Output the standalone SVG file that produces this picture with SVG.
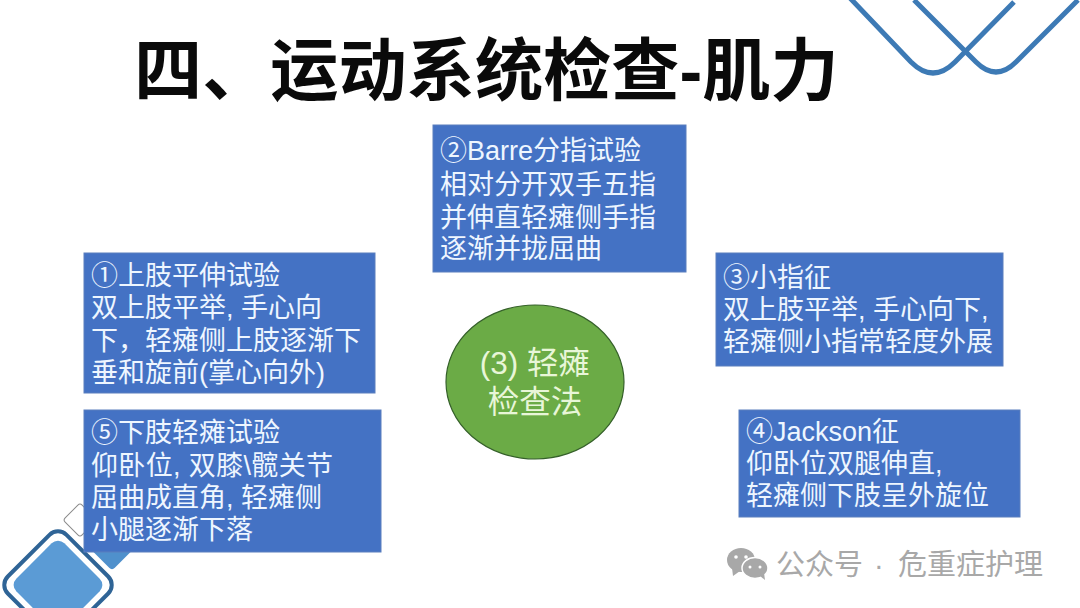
<svg xmlns="http://www.w3.org/2000/svg" width="1080" height="608" viewBox="0 0 1080 608">
<style>
text{font-family:"Liberation Sans","Noto Sans CJK SC",sans-serif}
.box{fill:#4472c4;stroke:#5a7fbe;stroke-width:1}
.t{fill:#eef6ff;font-size:27px}
.c{fill:#e8f6d8;font-size:31.500px;text-anchor:middle}
.title{fill:#0a0a0a;font-size:68.2px;font-weight:700}
.wm{fill:#a8a8a8;font-size:29px}
</style>
<rect width="1080" height="608" fill="#ffffff"/>
<g id="deco-top" fill="none" stroke="#3d7ab5" stroke-width="5">
<path d="M850 -2L911 62Q933 84 955 62L1014 2"/>
<path d="M914 0L976 62Q996 82 1016 62L1078 0"/>
</g>
<g id="deco-bottom">
<rect x="68" y="508" width="24" height="24" rx="3" transform="rotate(45 80 520)" fill="#fff" stroke="#8a8a8a" stroke-width="1"/>
<rect x="96" y="532" width="32" height="32" rx="4" transform="rotate(45 112 548)" fill="#4f90cc"/>
<rect x="16.500" y="543.500" width="83" height="83" rx="12" transform="rotate(45 58 585)" fill="#fff" stroke="#2f6496" stroke-width="4"/>
<rect x="24" y="551" width="68" height="68" rx="9" transform="rotate(45 58 585)" fill="#5b9bd5"/>
</g>
<text id="title" class="title" x="134" y="95">四、运动系统检查-肌力</text>
<g id="connectors"/>
<g id="node-2">
<rect class="box" x="433" y="125" width="253" height="147"/>
<text class="t" x="440" y="160">②Barre分指试验</text>
<text class="t" x="440" y="194">相对分开双手五指</text>
<text class="t" x="440" y="227">并伸直轻瘫侧手指</text>
<text class="t" x="440" y="258">逐渐并拢屈曲</text>
</g>
<g id="node-1">
<rect class="box" x="84" y="253" width="291" height="140"/>
<text class="t" x="91" y="285">①上肢平伸试验</text>
<text class="t" x="91" y="317">双上肢平举, 手心向</text>
<text class="t" x="91" y="350">下，轻瘫侧上肢逐渐下</text>
<text class="t" x="91" y="382">垂和旋前(掌心向外)</text>
</g>
<g id="node-5">
<rect class="box" x="84" y="410" width="297" height="142"/>
<text class="t" x="91" y="442">⑤下肢轻瘫试验</text>
<text class="t" x="91" y="475" textLength="242">仰卧位, 双膝\髋关节</text>
<text class="t" x="91" y="507">屈曲成直角, 轻瘫侧</text>
<text class="t" x="91" y="539">小腿逐渐下落</text>
</g>
<g id="node-3">
<rect class="box" x="716" y="253" width="287" height="113"/>
<text class="t" x="723" y="287">③小指征</text>
<text class="t" x="723" y="319">双上肢平举, 手心向下,</text>
<text class="t" x="723" y="351">轻瘫侧小指常轻度外展</text>
</g>
<g id="node-4">
<rect class="box" x="739" y="410" width="281" height="107"/>
<text class="t" x="746" y="441">④Jackson征</text>
<text class="t" x="746" y="473">仰卧位双腿伸直,</text>
<text class="t" x="746" y="505">轻瘫侧下肢呈外旋位</text>
</g>
<g id="node-center">
<ellipse cx="535" cy="382" rx="89" ry="77" fill="#6bab46" stroke="#35602a" stroke-width="1.2"/>
<text class="c" x="535" y="374">(3) 轻瘫</text>
<text class="c" x="535" y="413">检查法</text>
</g>
<g id="watermark">
<g fill="#a8a8a8">
<ellipse cx="741" cy="560" rx="14" ry="12"/>
<path d="M732 568l1 8 7-5z"/>
<ellipse cx="755" cy="568" rx="13" ry="10.500" stroke="#fff" stroke-width="1.500"/>
<path d="M760 576l5 4-1-7z"/>
<g fill="#fff"><circle cx="736" cy="557" r="1.800"/><circle cx="746" cy="557" r="1.800"/><circle cx="750" cy="567" r="1.500"/><circle cx="760" cy="567" r="1.500"/></g>
</g>
<text class="wm" x="776" y="575">公众号</text>
<text class="wm" x="874" y="575">·</text>
<text class="wm" x="898" y="575">危重症护理</text>
</g>
</svg>
